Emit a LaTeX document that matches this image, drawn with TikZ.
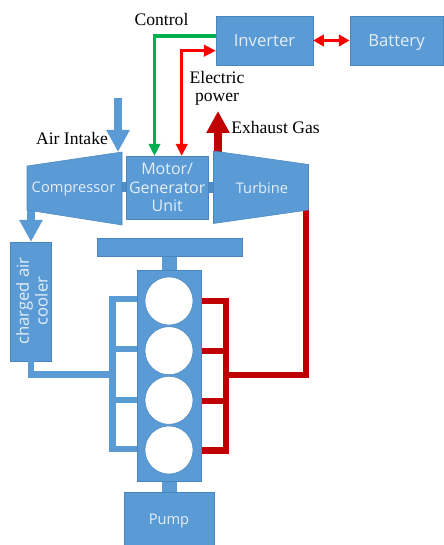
\documentclass[tikz,border=0pt]{standalone}
\usepackage{fontspec}
\setmainfont{Open Sans}
\newfontfamily\labelfont{Liberation Serif}
\usepackage{tikz}
\usetikzlibrary{arrows.meta}
\definecolor{blockblue}{HTML}{5B9BD5}
\definecolor{blockedge}{HTML}{4A86BD}
\definecolor{blocktext}{HTML}{E4EEF8}
\definecolor{shaftblue}{HTML}{4F8CC6}
\definecolor{ctrlgreen}{HTML}{00B050}
\definecolor{powerred}{HTML}{FF0000}
\definecolor{gasred}{HTML}{C00000}
\tikzstyle{block}=[rectangle,draw=blockedge,fill=blockblue,text=blocktext,inner sep=0pt,align=center,font=\fontsize{12}{13.8}\selectfont]
\tikzstyle{blocktitle}=[text=blocktext,inner sep=0pt,font=\fontsize{11}{13.5}\selectfont]
\tikzstyle{oneline}=[text height=9pt,text depth=0pt]
\tikzstyle{cylinder}=[circle,draw=blockedge,fill=white,minimum size=36pt,inner sep=0pt]
\tikzstyle{caption}=[inner sep=0pt,align=center,font=\labelfont\fontsize{13.2}{13.5}\selectfont]
\tikzstyle{airpipe}=[draw=blockblue,line width=4.9pt,line join=miter]
\tikzstyle{gaspipe}=[draw=gasred,line width=4.9pt,line join=miter]
\tikzstyle{bigarrow}=[line width=6pt,-{Triangle[length=16.5pt,width=16.5pt]}]
\tikzstyle{thinarrow}=[line width=2.6pt,-{Triangle[length=9pt,width=8.5pt]}]
\newcommand{\tikzpicunit}{0.75pt}

\begin{document}
\begin{tikzpicture}[x=\tikzpicunit,y=-\tikzpicunit]
	\useasboundingbox (0,0) rectangle (443,545);
	% top row
	\node[block,oneline,font=\fontsize{12.5}{13.5}\selectfont,minimum width=72.5pt,minimum height=37pt] (inverter) at (264.5,40.5) {Inverter};
	\node[block,oneline,font=\fontsize{12.5}{13.5}\selectfont,minimum width=70pt,minimum height=37pt] (battery) at (396.5,40.5) {Battery};
	% engine
	\node[block,draw=none,minimum width=11.5pt,minimum height=12pt] (upneck) at (169.5,263) {};
	\node[block,draw=none,minimum width=11.5pt,minimum height=10pt] (lowneck) at (169.5,486) {};
	\node[block,minimum width=108.5pt,minimum height=13.5pt] (topbar) at (169.5,247) {};
	\node[block,minimum width=48.5pt,minimum height=158pt] (engine) at (169.2,375.5) {};
	\node[block,oneline,font=\fontsize{11}{13.5}\selectfont,minimum width=67.5pt,minimum height=40pt] (pump) at (169,518.5) {Pump};
	\node[block,minimum width=31pt,minimum height=89pt] (cooler) at (30.8,301.5) {};
	\node[blocktitle,rotate=90,align=center,font=\fontsize{12.5}{14}\selectfont] (coolertext) at (32,301) {charged air\\cooler};
	\node[cylinder] (cyl1) at (169,301) {};
	\node[cylinder] (cyl2) at (169,350.7) {};
	\node[cylinder] (cyl3) at (169,400.3) {};
	\node[cylinder] (cyl4) at (169,450) {};
	% air side
	\coordinate (airbus) at (112.7,374.5);
	\coordinate (airin) at (118,98);
	\coordinate (airout) at (118,152);
	\coordinate (compout) at (31,210);
	\draw[blockblue,bigarrow] (airin) -- (airout);
	\draw[blockblue,bigarrow] (compout) -- (cooler.north -| compout);
	\draw[airpipe] (cooler.south -| compout) -- (31,374.5) -- (airbus);
	\draw[airpipe] (engine.west |- 0,299) -- (airbus |- 0,299) -- (airbus |- 0,449) -- (engine.west |- 0,449);
	\foreach \y in {349,400}
		\draw[airpipe] (engine.west |- 0,\y) -- (airbus |- 0,\y);
	% gas side
	\coordinate (gasbus) at (226,375);
	\coordinate (gastop) at (306,201);
	\coordinate (gasup) at (218,152);
	\coordinate (gasend) at (218,111);
	\draw[gaspipe] (engine.east |- 0,301) -- (gasbus |- 0,301) -- (gasbus |- 0,450.7) -- (engine.east |- 0,450.7);
	\foreach \y in {351,401}
		\draw[gaspipe] (engine.east |- 0,\y) -- (gasbus |- 0,\y);
	\draw[gaspipe] (gasbus) -- (306,375) -- (gastop);
	\draw[gasred,bigarrow] (gasup) -- (gasend);
	% machines
	\node[block,draw=none,fill=shaftblue,minimum width=6pt,minimum height=8pt] (lshaft) at (124,187) {};
	\node[block,draw=none,fill=shaftblue,minimum width=6pt,minimum height=8pt] (rshaft) at (211,187.5) {};
	\node[block,minimum width=61pt,minimum height=47pt] (motor) at (167.2,187.5) {\raisebox{-0.6pt}{Motor/}\\\raisebox{-0.6pt}{Generator}\\\raisebox{-0.6pt}{Unit}};
	\fill[blockblue,draw=blockedge] (27,166) -- (122,152) -- (122,225) -- (27,210) -- cycle;
	\node[blocktitle] (compressor) at (73.5,188.5) {Compressor};
	\fill[blockblue,draw=blockedge] (213.5,151) -- (308.5,164.5) -- (308.5,210) -- (213.5,223.5) -- cycle;
	\node[blocktitle] (turbine) at (262,188.5) {Turbine};
	% signal and power
	\coordinate (ctrlturn) at (154.5,36);
	\coordinate (powerturn) at (181.7,50.7);
	\draw[ctrlgreen,thinarrow] (inverter.west |- ctrlturn) -- (ctrlturn) -- (ctrlturn |- motor.north);
	\draw[powerred,line width=2.6pt,{Triangle[length=9pt,width=8.5pt]}-{Triangle[length=9pt,width=8.5pt]}] (powerturn |- motor.north) -- (powerturn) -- (inverter.west |- powerturn);
	\draw[powerred,line width=2.2pt,{Triangle[length=8pt,width=8.5pt]}-{Triangle[length=8pt,width=8.5pt]}] (inverter) -- (battery);
	% captions
	\node[caption] (control) at (161.5,19) {Control};
	\node[caption] (airintake) at (72,138) {Air Intake};
	\node[caption] (electric) at (217,88.5) {Electric\\power};
	\node[caption] (exhaust) at (275.5,127.5) {Exhaust Gas};
\end{tikzpicture}
\end{document}
